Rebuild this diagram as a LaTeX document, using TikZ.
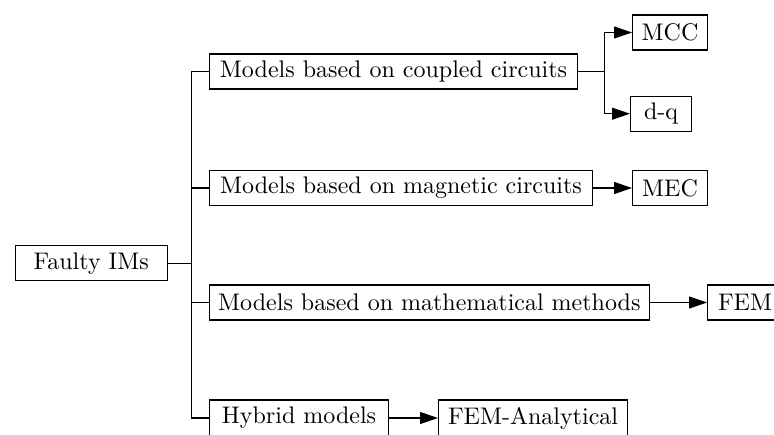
\documentclass[tikz,border=0pt]{standalone}
\usepackage{graphicx}
\usetikzlibrary{arrows.meta}
\newcommand{\bt}[1]{\scalebox{1.2}{#1}}
\begin{document}
\begin{tikzpicture}[x=0.5pt,y=-0.5pt,
  box/.style={draw=black, line width=0.55pt, anchor=west, minimum height=17.5pt, inner sep=0pt, font=\fontsize{10}{12}\selectfont},
  conn/.style={draw=black, line width=0.55pt},
  arr/.style={conn, -{Triangle[length=9pt,width=6pt]}}]
\useasboundingbox (0,0) rectangle (774,434);
\clip (0,0) rectangle (774,434);
\node[box, minimum width=76pt] (faulty) at (14.7,263.3) {\bt{Faulty IMs}};
\node[box, minimum width=184pt] (coupled) at (209,71.5) {\bt{Models based on coupled circuits}};
\node[box, minimum width=191.5pt] (magnetic) at (209,188) {\bt{Models based on magnetic circuits}};
\node[box, minimum width=220.3pt] (math) at (208.5,302.5) {\bt{Models based on mathematical methods}};
\node[box, minimum width=89.5pt, minimum height=18pt] (hybrid) at (209,418) {\bt{Hybrid models}};
\node[box, minimum width=94.5pt, minimum height=18pt] (femanal) at (438,418) {\bt{FEM-Analytical}};
\node[box, minimum width=37.5pt] (mcc) at (632,32.5) {\bt{MCC}};
\node[box, minimum width=30.5pt] (dq) at (630,113.7) {\bt{d-q}};
\node[box, minimum width=37.5pt] (mec) at (632,188) {\bt{MEC}};
\node[box, minimum width=37.5pt] (fem) at (707,302.5) {\bt{FEM}};
\coordinate (jt) at (191.7,263.3);
\coordinate (jc) at (604.3,71.5);
\draw[conn] (faulty) -- (jt);
\draw[conn] (jt) |- (coupled);
\draw[conn] (jt) |- (magnetic);
\draw[conn] (jt) |- (math);
\draw[conn] (jt) |- (hybrid);
\draw[conn] (coupled) -- (jc);
\draw[arr] (jc) |- (mcc);
\draw[arr] (jc) |- (dq);
\draw[arr] (magnetic) -- (mec);
\draw[arr] (math) -- (fem);
\draw[arr] (hybrid) -- (femanal);
\end{tikzpicture}
\end{document}
